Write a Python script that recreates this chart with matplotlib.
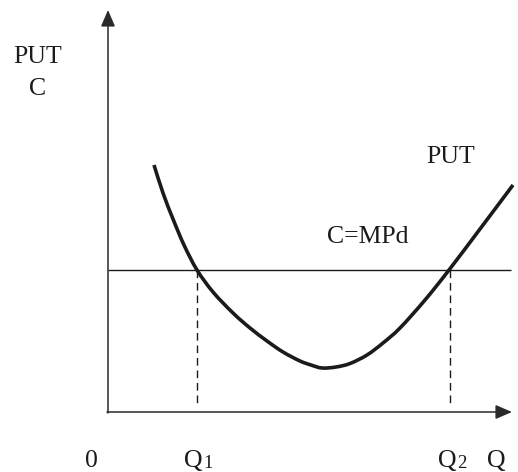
import numpy as np
import matplotlib
matplotlib.use("Agg")
import matplotlib.pyplot as plt
from matplotlib.path import Path
from matplotlib.patches import PathPatch

# Average total cost curve (PUT): quantity Q and cost C, axis origin at (0, 0)
put_q = [11.5, 13.75, 16.25, 19.0, 22.25, 26.25, 31.25, 35.5, 39.75, 43.75,
         48.0, 50.75, 53.5, 57.0, 60.5, 64.75, 68.75, 73.0, 79.25, 85.25,
         93.0, 101.25]
put_c = [61.75, 54.75, 48.25, 41.75, 35.5, 30.0, 24.75, 21.0, 17.75, 15.0,
         12.75, 11.75, 11.0, 11.25, 12.125, 14.25, 17.25, 21.0, 28.0, 35.5,
         45.75, 56.75]

# Price level C = MPd and the two break-even quantities
price_level = 35.5
q_break = [22.25, 85.6]
q_labels = ["1", "2"]

axis_q_max = 101.0
axis_c_max = 100.5
line_q_max = 100.75

ink = "#1b1b1b"
serif = ["Liberation Serif", "DejaVu Serif"]
fs = 18.5

fig = plt.figure(figsize=(5.18, 4.72), dpi=100)
ax = fig.add_axes([0, 0, 1, 1])
ax.set_xlim(-27, 102.5)
ax.set_ylim(-15, 103)
ax.axis("off")

# Coordinate axes with arrow heads
arrow_kw = dict(arrowstyle="-|>,head_length=10,head_width=4.3", mutation_scale=1,
                lw=1.1, color="#2a2a2a", shrinkA=0, shrinkB=0)
ax.annotate("", xy=(0, axis_c_max), xytext=(0, -0.25), arrowprops=arrow_kw)
ax.annotate("", xy=(axis_q_max, 0), xytext=(-0.25, 0), arrowprops=arrow_kw)

# Horizontal price line
ax.plot([0, line_q_max], [price_level, price_level], color=ink, lw=1.0,
        solid_capstyle="butt")

# Dashed drop lines at Q1 and Q2
for q in q_break:
    ax.plot([q, q], [price_level, 1.5], color=ink, lw=1.0,
            dashes=(5.5, 3.5))

# Smooth PUT curve through the points (Catmull-Rom as cubic Bezier segments)
pts = np.column_stack([put_q, put_c])
verts = [pts[0]]
codes = [Path.MOVETO]
n = len(pts)
for i in range(n - 1):
    p0 = pts[i - 1] if i > 0 else pts[i]
    p1 = pts[i]
    p2 = pts[i + 1]
    p3 = pts[i + 2] if i + 2 < n else pts[i + 1]
    c1 = p1 + (p2 - p0) / 6.0
    c2 = p2 - (p3 - p1) / 6.0
    verts += [c1, c2, p2]
    codes += [Path.CURVE4] * 3
ax.add_patch(PathPatch(Path(verts, codes), fill=False, ec=ink, lw=2.6,
                       capstyle="butt", joinstyle="round"))

# Labels
txt = dict(family=serif, fontsize=fs, color=ink, va="baseline")
ax.text(-17.6, 87.25, "PUT", ha="center", **txt)
ax.text(-17.5, 79.25, "C", ha="center", **txt)
ax.text(85.75, 62.25, "PUT", ha="center", **txt)
ax.text(65.0, 42.25, "C=MPd", ha="center", **txt)
ax.text(-4.25, -13.75, "0", ha="center", **txt)
ax.text(97.0, -13.75, "Q", ha="center", **txt)

for q, sub in zip(q_break, q_labels):
    ax.text(q - 0.9, -13.75, "Q", ha="center", **txt)
    ax.text(q + 1.6, -14.0, sub, ha="left", family=serif, fontsize=13.5,
            color=ink, va="baseline")

fig.savefig("out.png", dpi=100)
